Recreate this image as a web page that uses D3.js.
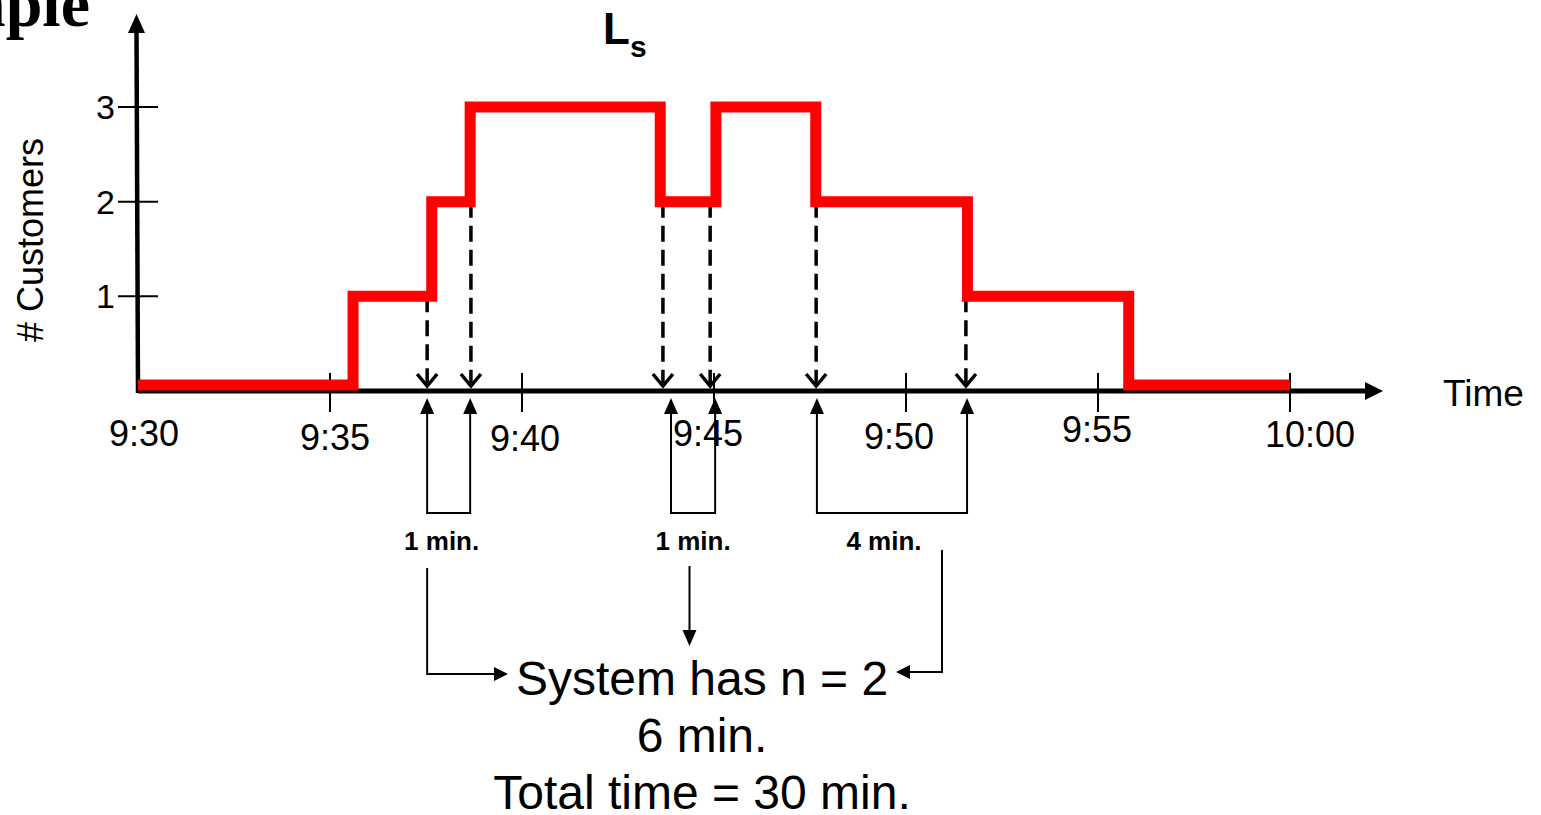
<!DOCTYPE html>
<html>
<head>
<meta charset="utf-8">
<script src="https://cdn.jsdelivr.net/npm/d3@7"></script>
<style>
  body { margin: 0; background: #fff; }
  svg { display: block; }
  text { font-family: "Liberation Sans", Arial, sans-serif; fill: #000; }
</style>
</head>
<body>
<div id="chart"></div>
<script>
// minutes after 9:30 where the count changes, and the count held from there on
const stepTimes = [0, 5.6, 7.65, 8.65, 13.6, 15.05, 17.65, 21.6, 25.8, 30];
const stepCounts = [0, 1, 2, 3, 2, 3, 2, 1, 0, 0];

// dashed drops from the step line to the axis
const dropTimes = [7.53, 8.67, 13.67, 14.9, 17.66, 21.56];
const dropCounts = [1, 2, 2, 2, 2, 1];

// periods with n = 2, bracketed under the axis
const bracketStarts = [7.53, 13.88, 17.68];
const bracketEnds = [8.65, 15.03, 21.59];
const bracketLabels = ["1 min.", "1 min.", "4 min."];

const tickTimes = [0, 5, 10, 15, 20, 25, 30];
const tickLabels = ["9:30", "9:35", "9:40", "9:45", "9:50", "9:55", "10:00"];
const yTicks = [1, 2, 3];

const summaryLines = ["System has n = 2", "6 min.", "Total time = 30 min."];

const W = 1541, H = 815;
const x = d3.scaleLinear().domain([0, 30]).range([138, 1290]);
const y = d3.scaleLinear().domain([0, 3]).range([391, 107]);

// hand-placed tick labels in the original sit a little off their ticks
const labelDx = [6, 5, 3, -6, -7, -1, 20];
const labelDy = [55, 59, 60, 55, 58, 51, 56];

const svg = d3.select("#chart").append("svg")
  .attr("width", W).attr("height", H)
  .attr("viewBox", [0, 0, W, H]);

// cropped slide title
svg.append("text")
  .attr("x", 90).attr("y", 26)
  .attr("text-anchor", "end")
  .style("font-family", "'Liberation Serif', 'Times New Roman', serif")
  .style("font-weight", "bold").style("font-size", "66px")
  .text("Example");

// chart title L_s
const title = svg.append("text")
  .attr("x", 603).attr("y", 44)
  .style("font-weight", "bold").style("font-size", "44px");
title.append("tspan").text("L");
title.append("tspan").attr("dy", 13).style("font-size", "30px").text("s");

// dashed drop lines (under the red line)
const drops = svg.append("g");
dropTimes.forEach((t, i) => {
  const xx = x(t);
  drops.append("line")
    .attr("x1", xx).attr("x2", xx)
    .attr("y1", y(dropCounts[i])).attr("y2", y(0) - 5)
    .attr("stroke", "#000").attr("stroke-width", 3.5)
    .attr("stroke-dasharray", "16,8");
  drops.append("path")
    .attr("d", `M${xx - 10},${y(0) - 17} L${xx},${y(0) - 5} L${xx + 10},${y(0) - 17}`)
    .attr("fill", "none").attr("stroke", "#000").attr("stroke-width", 3.5);
});

// axes
const axis = svg.append("g");
axis.append("line")
  .attr("x1", x(0)).attr("x2", 1368)
  .attr("y1", y(0)).attr("y2", y(0))
  .attr("stroke", "#000").attr("stroke-width", 5);
axis.append("path")
  .attr("d", `M1365,${y(0) - 9} L1383,${y(0)} L1365,${y(0) + 9} Z`)
  .attr("fill", "#000");
axis.append("line")
  .attr("x1", x(0)).attr("x2", 136.5)
  .attr("y1", y(0) + 2).attr("y2", 30)
  .attr("stroke", "#000").attr("stroke-width", 4.5);
axis.append("path")
  .attr("d", "M128,33 L136.5,14 L145,33 Z")
  .attr("fill", "#000");

axis.selectAll(".xtick")
  .data(tickTimes.slice(1))
  .join("line")
  .attr("x1", d => x(d)).attr("x2", d => x(d))
  .attr("y1", y(0) - 18).attr("y2", y(0) + 21)
  .attr("stroke", "#000").attr("stroke-width", 2);

axis.selectAll(".xlabel")
  .data(tickTimes)
  .join("text")
  .attr("x", (d, i) => x(d) + labelDx[i])
  .attr("y", (d, i) => y(0) + labelDy[i])
  .attr("text-anchor", "middle")
  .style("font-size", "36px")
  .text((d, i) => tickLabels[i]);

axis.selectAll(".ytick")
  .data(yTicks)
  .join("line")
  .attr("x1", 118).attr("x2", 158)
  .attr("y1", d => y(d)).attr("y2", d => y(d))
  .attr("stroke", "#000").attr("stroke-width", 2);

axis.selectAll(".ylabel")
  .data(yTicks)
  .join("text")
  .attr("x", 115).attr("y", d => y(d) + 12)
  .attr("text-anchor", "end")
  .style("font-size", "34px")
  .text(d => d);

svg.append("text")
  .attr("transform", "translate(43,240) rotate(-90)")
  .attr("text-anchor", "middle")
  .style("font-size", "36px")
  .text("# Customers");

svg.append("text")
  .attr("x", 1443).attr("y", 406)
  .style("font-size", "37px")
  .text("Time");

// red step line; the zero run is lifted so it sits on top of the axis
const line = d3.line()
  .x(d => x(d[0]))
  .y(d => y(d[1]) - (d[1] === 0 ? 6 : 0))
  .curve(d3.curveStepAfter);
svg.append("path")
  .datum(stepTimes.map((t, i) => [t, stepCounts[i]]))
  .attr("d", line)
  .attr("fill", "none")
  .attr("stroke", "#ff0000")
  .attr("stroke-width", 11)
  .attr("stroke-linejoin", "miter");

// brackets with up arrows under the axis
const bracketY = 513, tipY = 398;
const upArrow = (g, xx) => {
  g.append("path")
    .attr("d", `M${xx - 7},${tipY + 16} L${xx},${tipY} L${xx + 7},${tipY + 16} Z`)
    .attr("fill", "#000");
};
const brackets = svg.append("g");
bracketStarts.forEach((s, i) => {
  const x0 = x(s), x1 = x(bracketEnds[i]);
  brackets.append("path")
    .attr("d", `M${x0},${tipY + 10} V${bracketY} H${x1} V${tipY + 10}`)
    .attr("fill", "none").attr("stroke", "#000").attr("stroke-width", 2);
  upArrow(brackets, x0);
  upArrow(brackets, x1);
  brackets.append("text")
    .attr("x", (x0 + x1) / 2 - (i === 0 ? 7 : i === 2 ? 8 : 0))
    .attr("y", 550)
    .attr("text-anchor", "middle")
    .style("font-size", "26px").style("font-weight", "bold")
    .text(bracketLabels[i]);
});

// summary text and connectors
const sumX = 702;
svg.selectAll(".summary")
  .data(summaryLines)
  .join("text")
  .attr("x", sumX)
  .attr("y", (d, i) => 695 + i * 57)
  .attr("text-anchor", "middle")
  .style("font-size", "48px")
  .text(d => d);

const conn = svg.append("g")
  .attr("fill", "none").attr("stroke", "#000").attr("stroke-width", 2);
const lx = x(bracketStarts[0]);
conn.append("path").attr("d", `M${lx},568 V674 H496`);
svg.append("path").attr("d", "M494,667 L508,674 L494,681 Z").attr("fill", "#000");
conn.append("path").attr("d", "M689.5,566 V632");
svg.append("path").attr("d", "M682.5,630 L689.5,646 L696.5,630 Z").attr("fill", "#000");
conn.append("path").attr("d", "M942,550 V672 H908");
svg.append("path").attr("d", "M910,665 L896,672 L910,679 Z").attr("fill", "#000");
</script>
</body>
</html>
